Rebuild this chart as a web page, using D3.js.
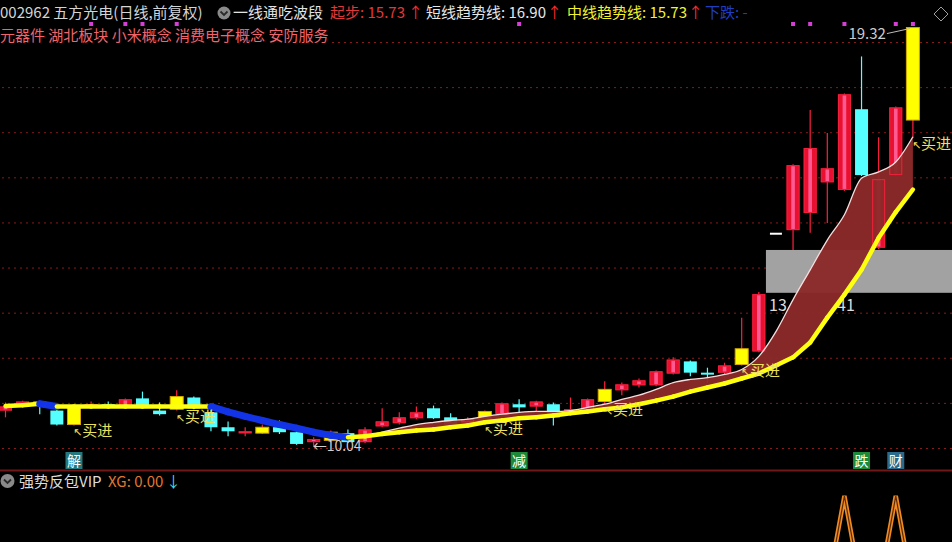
<!DOCTYPE html>
<html><head><meta charset="utf-8">
<script src="https://cdn.jsdelivr.net/npm/d3@7"></script>
<style>html,body{margin:0;padding:0;background:#000;overflow:hidden}svg{display:block}</style>
</head><body><svg id="c" width="952" height="542"></svg>
<script>
// ---- data ----
const opens  = [10.83,10.97,11.03,10.83,10.52,10.92,10.97,10.92,11.10,10.83,10.86,11.12,10.79,10.46,10.33,10.33,10.46,10.35,10.13,10.17,10.33,10.13,10.48,10.55,10.66,10.88,10.68,10.57,10.57,10.75,10.97,10.92,10.97,10.81,10.83,11.03,11.28,11.39,11.39,11.65,11.92,11.67,11.67,11.85,12.14,14.75,14.83,15.21,15.89,15.72,17.51,14.44,16.05,17.27];
const highs  = [11.01,11.05,11.05,10.88,10.92,11.03,11.03,11.10,11.25,11.01,11.28,11.14,10.86,10.59,10.46,10.52,10.61,10.37,10.24,10.39,10.41,10.46,10.88,10.79,10.92,10.94,10.77,10.68,10.83,11.01,11.08,11.05,11.01,11.12,11.10,11.48,11.45,11.54,11.72,12.01,11.94,11.78,11.89,12.89,13.46,14.75,16.29,17.49,16.98,17.86,18.68,16.89,17.57,19.32];
const lows   = [10.68,10.94,10.75,10.50,10.50,10.90,10.90,10.90,10.90,10.72,10.83,10.86,10.37,10.26,10.26,10.31,10.31,10.07,10.04,10.13,10.11,10.11,10.46,10.52,10.64,10.64,10.48,10.52,10.55,10.72,10.79,10.79,10.50,10.79,10.81,10.97,11.17,11.34,11.37,11.63,11.59,11.45,11.52,11.83,12.12,14.75,14.39,14.77,14.99,15.70,16.03,14.41,16.03,16.87];
const closes = [10.92,11.03,10.97,10.52,10.90,10.97,10.92,11.08,10.92,10.75,11.14,10.88,10.46,10.37,10.37,10.46,10.35,10.09,10.20,10.35,10.13,10.41,10.59,10.68,10.79,10.66,10.52,10.64,10.81,10.99,10.90,11.03,10.68,10.86,11.08,11.30,11.41,11.50,11.70,11.96,11.67,11.63,11.83,12.20,13.41,14.75,16.27,16.65,16.20,17.84,16.05,15.96,17.55,19.32];
// candle colour class: r = up (red), c = down (cyan), y = signal (yellow), w = one-price (white)
const candleKinds = ["r","r","c","c","y","r","c","r","c","c","y","c","c","c","r","y","c","c","r","y","c","r","r","r","r","c","c","r","y","r","c","r","c","r","r","y","r","r","r","r","c","c","r","y","r","w","r","r","r","r","c","r","r","y"];
const midTrend = [10.93,10.95,10.98,10.92,10.92,10.92,10.92,10.92,10.92,10.92,10.92,10.92,10.92,10.80,10.70,10.61,10.52,10.44,10.35,10.28,10.24,10.26,10.31,10.35,10.39,10.41,10.46,10.50,10.57,10.61,10.66,10.68,10.72,10.77,10.81,10.86,10.90,10.97,11.05,11.14,11.25,11.34,11.43,11.54,11.65,11.83,12.01,12.34,12.89,13.40,13.95,14.66,15.23,15.73];
const shortTrend = [null,null,null,null,null,null,null,null,null,null,null,null,null,null,null,null,null,null,null,null,
  10.26,10.28,10.35,10.44,10.52,10.57,10.61,10.64,10.70,10.75,10.79,10.81,10.81,10.83,10.90,10.97,11.08,11.17,11.30,11.45,11.52,11.56,11.63,11.74,12.03,12.58,13.29,13.95,14.61,15.17,15.98,16.12,16.34,16.90];
const xgValues = [0,0,0,0,0,0,0,0,0,0,0,0,0,0,0,0,0,0,0,0,0,0,0,0,0,0,0,0,0,0,0,0,0,0,0,0,0,0,0,0,0,0,0,0,0,0,0,0,0,1,0,0,1,0];
const gridPrices = [10,11,12,13,14,15,16,17,18,19];
const buySignalIdx = [4,10,28,35,43,53];
const markDotIdx = [5,7,8,10,30,46,47,49,52,53];
const tagIdx = [4,30,50,52];
const tagLabels = ["解","减","跌","财"];
const tagFills = ["#23797d","#1d8a3a","#1d8a3a","#2a6a8c"];
const zonePrices = [13.44, 14.39];
const zoneStartIdx = 45;
const lowLabel = "←10.04", lowIdx = 18;
const highLabel = "19.32", highIdx = 53;
const headerParts = [
  {t:"002962 五方光电(日线,前复权)", x:0, c:"#d4d4d4"},
  {t:"一线通吃波段", x:233, c:"#e2e2e2"},
  {t:"起步: 15.73", x:330, c:"#e03838"},
  {t:"↑", x:408, c:"#ff2a2a"},
  {t:"短线趋势线: 16.90", x:426, c:"#e6e6e6"},
  {t:"↑", x:547, c:"#ff2a2a"},
  {t:"中线趋势线: 15.73", x:567, c:"#f2f22e"},
  {t:"↑", x:688, c:"#ff2a2a"},
  {t:"下跌: -", x:705, c:"#1f3fc0"}
];
const sectorText = "元器件 湖北板块 小米概念 消费电子概念 安防服务";

// ---- drawing ----
const FONT = "'Noto Sans CJK SC','Noto Sans',sans-serif";
const N = closes.length;
const svg = d3.select("#c");
svg.append("rect").attr("width",952).attr("height",542).attr("fill","#000");
const x = d3.scaleLinear().domain([0, N-1]).range([5.5, 912.9]);
const y = d3.scaleLinear().domain([10, 19]).range([448, 42]);
const yXG = d3.scaleLinear().domain([0, 1]).range([590, 496]);

// grid via axis
const gridG = svg.append("g").attr("transform","translate(952,0)")
  .call(d3.axisLeft(y).tickValues(gridPrices).tickSize(952).tickFormat(""));
gridG.select(".domain").remove();
gridG.selectAll(".tick line").attr("stroke","#8a1a1a").attr("stroke-dasharray","2,4").attr("stroke-width",1);

const COL = {r:"#e8102e", c:"#55ffff", y:"#ffff00", w:"#ffffff"};
const WICK = {r:"#ff2040", c:"#55ffff", y:"#ff2040", w:"#ffffff"};
const bw = 13;
const cg = svg.append("g");
d3.range(N).forEach(i=>{
  const k = candleKinds[i], cx = x(i);
  const top = y(Math.max(opens[i],closes[i])), bot = y(Math.min(opens[i],closes[i]));
  cg.append("line").attr("x1",cx).attr("x2",cx).attr("y1",y(highs[i])).attr("y2",y(lows[i]))
    .attr("stroke",WICK[k]).attr("stroke-width",1.2);
  if (k === "w") {
    cg.append("line").attr("x1",cx-6).attr("x2",cx+6).attr("y1",top).attr("y2",top)
      .attr("stroke","#fff").attr("stroke-width",2);
    return;
  }
  const h = Math.max(bot-top, 2);
  cg.append("rect").attr("x",cx-bw/2).attr("y",top).attr("width",bw).attr("height",h)
    .attr("fill",COL[k]).attr("stroke", k==="y" ? "#d8a800" : "none").attr("stroke-width",1);
  if (k === "r" && h > 3) {
    cg.append("rect").attr("x",cx-1.8).attr("y",top+1).attr("width",3.6).attr("height",h-2).attr("fill","#ff5a92");
  }
});

// support zone
svg.append("rect").attr("x",x(zoneStartIdx)-10).attr("y",y(zonePrices[1]))
  .attr("width",952-(x(zoneStartIdx)-10)).attr("height",y(zonePrices[0])-y(zonePrices[1]))
  .attr("fill","#a2a2a2");
svg.append("text").attr("x",769).attr("y",311).attr("fill","#dcdcdc").attr("font-size",16).attr("font-family",FONT).text("13");
svg.append("text").attr("x",837).attr("y",311).attr("fill","#dcdcdc").attr("font-size",16).attr("font-family",FONT).text("41");

// band between short and mid trend
const bandIdx = d3.range(N).filter(i=>shortTrend[i]!=null);
const area = d3.area().x(i=>x(i)).y0(i=>y(midTrend[i])).y1(i=>y(shortTrend[i])).curve(d3.curveMonotoneX);
svg.append("path").datum(bandIdx).attr("d",area).attr("fill","#8c2a2a").attr("fill-opacity",0.96);
// red candle outlines over the band
d3.range(N).filter(i=>candleKinds[i]==="r").forEach(i=>{
  const top = y(Math.max(opens[i],closes[i])), bot = y(Math.min(opens[i],closes[i]));
  svg.append("rect").attr("x",x(i)-bw/2+0.5).attr("y",top+0.5).attr("width",bw-1).attr("height",Math.max(bot-top-1,1))
    .attr("fill","none").attr("stroke","#f0203c").attr("stroke-width",1);
});
svg.append("path").datum(bandIdx)
  .attr("d", d3.line().x(i=>x(i)).y(i=>y(shortTrend[i])).curve(d3.curveMonotoneX))
  .attr("fill","none").attr("stroke","#f6dede").attr("stroke-width",1.3);

// mid trend line, blue when falling, yellow otherwise
d3.range(N-1).forEach(i=>{
  const down = midTrend[i+1] < midTrend[i];
  svg.append("line").attr("x1",x(i)).attr("x2",x(i+1)).attr("y1",y(midTrend[i])).attr("y2",y(midTrend[i+1]))
    .attr("stroke", down ? "#1234e6" : "#ffff10").attr("stroke-width", down ? 7 : 4.5)
    .attr("stroke-linecap","round");
});

// buy signals
buySignalIdx.forEach(i=>{
  const t = svg.append("text").attr("x",x(i)-1).attr("y",y(lows[i])+11).attr("fill","#ece060")
    .attr("font-size",15).attr("font-family",FONT);
  t.append("tspan").attr("font-family","'DejaVu Sans',sans-serif").attr("font-size",11).text("↖");
  t.append("tspan").text("买进");
});
// low / high labels
svg.append("text").attr("x",x(lowIdx)-1).attr("y",y(lows[lowIdx])+5).attr("fill","#cfcfcf")
  .attr("font-size",14).attr("font-family",FONT).text(lowLabel);
svg.append("text").attr("x",x(highIdx)-27).attr("y",y(highs[highIdx])+11).attr("text-anchor","end")
  .attr("fill","#cccccc").attr("font-size",15).attr("font-family",FONT).text(highLabel);
svg.append("line").attr("x1",x(highIdx)-26).attr("y1",y(highs[highIdx])+6).attr("x2",x(highIdx)-3).attr("y2",y(highs[highIdx])+1)
  .attr("stroke","#bbbbbb").attr("stroke-width",1);

// magenta dots
svg.selectAll("rect.dot").data(markDotIdx).join("rect").attr("class","dot")
  .attr("x",i=>x(i)-2).attr("y",22).attr("width",4).attr("height",4).attr("fill","#d63fd6");

// bottom tags
tagIdx.forEach((i,k)=>{
  svg.append("rect").attr("x",x(i)-8.5).attr("y",452).attr("width",17).attr("height",17).attr("fill",tagFills[k]);
  svg.append("text").attr("x",x(i)).attr("y",466).attr("text-anchor","middle").attr("fill","#ffffff")
    .attr("font-size",14).attr("font-family",FONT).text(tagLabels[k]);
});

// header
headerParts.forEach(p=>{
  svg.append("text").attr("x",p.x).attr("y",18).attr("fill",p.c).attr("font-size",15).attr("font-family",FONT).text(p.t);
});
svg.append("circle").attr("cx",224).attr("cy",13).attr("r",6.5).attr("fill","#8a8a8a");
svg.append("path").attr("d","M220.5,11.5 L224,15 L227.5,11.5").attr("fill","none").attr("stroke","#2a2a2a").attr("stroke-width",1.8);
svg.append("path").attr("d","M941,7 L948,14 L941,21 L934,14 Z").attr("fill","none").attr("stroke","#a0a0a0").attr("stroke-width",1);
svg.append("rect").attr("x",0).attr("y",27).attr("width",330).attr("height",18).attr("fill","#000");
svg.append("text").attr("x",0).attr("y",41).attr("fill","#f0646c").attr("font-size",15).attr("font-family",FONT).text(sectorText);

// lower panel
svg.append("line").attr("x1",0).attr("x2",952).attr("y1",470.5).attr("y2",470.5).attr("stroke","#701818").attr("stroke-width",2);
svg.append("circle").attr("cx",7.5).attr("cy",481).attr("r",7).attr("fill","#8a8a8a");
svg.append("path").attr("d","M4,479.5 L7.5,483 L11,479.5").attr("fill","none").attr("stroke","#2a2a2a").attr("stroke-width",1.8);
svg.append("text").attr("x",19).attr("y",487).attr("fill","#dcdcdc").attr("font-size",15).attr("font-family",FONT).text("强势反包VIP");
svg.append("text").attr("x",108).attr("y",487).attr("fill","#e07830").attr("font-size",15).attr("font-family",FONT).text("XG: 0.00");
svg.append("text").attr("x",166).attr("y",487).attr("fill","#40d8f0").attr("font-size",15).attr("font-family",FONT).text("↓");
const xgLine = d3.line().x((d,i)=>x(i)).y(d=>yXG(d));
svg.append("path").datum(xgValues).attr("d",xgLine).attr("fill","none").attr("stroke","#f08a24").attr("stroke-width",4.5);
svg.append("path").datum(xgValues).attr("d",xgLine).attr("fill","none").attr("stroke","#5a2a00").attr("stroke-width",1.2);
</script>
</body></html>
